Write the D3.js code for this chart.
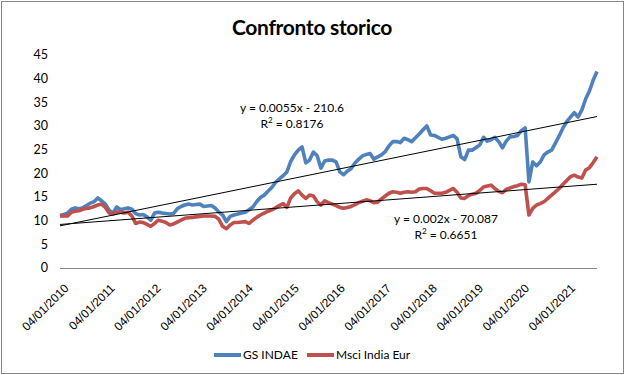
<html>
<head>
<style>
  body { margin: 0; background: #fff; }
  svg { display: block; font-family: Lato, Carlito, "Open Sans", sans-serif; }
</style>
<script src="https://cdn.jsdelivr.net/npm/d3@7"></script>
</head>
<body>
<svg id="chart"></svg>
<script>
  var width = 625,
      height = 375;

  // one sample every 30 days from the first trading day
  var startDate = new Date(2010, 0, 4),
      stepDays = 30;

  var seriesNames = ["GS INDAE", "Msci India Eur"];
  var seriesColors = ["#4F81BD", "#C0504D"];

  var gsIndae = [
    11.1, 11.3, 11.6, 12.4, 12.7, 12.5, 12.7, 13.2, 13.7, 14.0,
    14.8, 14.2, 13.5, 12.2, 11.6, 12.9, 12.3, 12.5, 12.7, 12.4,
    11.5, 11.2, 11.3, 10.8, 10.1, 11.6, 11.8, 11.6, 11.5, 11.4,
    11.5, 12.5, 13.0, 13.3, 13.5, 13.3, 13.4, 13.5, 13.0, 13.1,
    13.2, 12.7, 11.8, 11.2, 9.8, 10.9, 11.2, 11.4, 11.6, 11.8,
    12.3, 12.9, 14.0, 14.9, 15.4, 16.2, 17.0, 18.1, 18.8, 19.5,
    20.3, 22.5, 23.9, 24.9, 25.6, 22.2, 22.8, 24.5, 23.7, 21.1,
    22.6, 22.8, 22.8, 22.4, 20.3, 19.7, 20.5, 21.0, 22.2, 23.0,
    23.7, 24.0, 24.2, 23.0, 23.5, 23.9, 24.6, 25.8, 26.7, 26.7,
    26.5, 27.4, 27.1, 26.7, 27.5, 28.3, 29.2, 30.0, 28.1, 28.0,
    27.6, 27.2, 27.4, 27.7, 28.0, 27.3, 23.5, 22.9, 24.9, 24.9,
    25.4, 26.0, 27.6, 26.8, 27.1, 27.6, 26.7, 25.4, 26.8, 27.7,
    27.8, 28.0, 29.0, 29.6, 18.2, 22.4, 21.6, 22.4, 23.9, 24.5,
    24.9, 26.4, 27.9, 29.6, 30.9, 31.9, 32.8, 31.9, 33.4, 35.7,
    37.4, 39.7, 41.5
  ];

  var msciIndia = [
    11.0, 11.0, 11.0, 11.8, 12.0, 12.1, 12.4, 12.6, 12.7, 13.0,
    13.3, 13.5, 12.8, 11.6, 11.4, 11.8, 11.8, 11.6, 11.8, 11.0,
    9.4, 9.7, 9.6, 9.2, 8.8, 9.4, 10.1, 9.9, 9.6, 9.1,
    9.3, 9.7, 10.1, 10.5, 10.6, 10.7, 10.8, 10.9, 11.0, 11.0,
    11.0, 10.9, 10.3, 8.8, 8.3, 9.1, 9.6, 9.6, 9.7, 9.8,
    9.4, 10.1, 10.7, 11.2, 11.6, 12.0, 12.3, 12.7, 13.2, 13.6,
    12.8, 14.8, 15.7, 16.3, 15.4, 14.7, 15.4, 15.2, 14.0, 13.3,
    14.2, 13.8, 13.5, 13.2, 12.8, 12.6, 12.8, 13.0, 13.4, 13.8,
    14.1, 14.4, 14.2, 13.8, 13.9, 14.6, 15.2, 15.8, 16.1, 16.0,
    15.8, 16.0, 16.1, 16.0, 16.1, 16.7, 16.8, 16.8, 16.3, 15.8,
    15.8, 15.8, 16.0, 16.4, 16.8, 16.0, 14.8, 14.7, 15.3, 15.6,
    15.8, 16.4, 17.1, 17.3, 17.5, 16.8, 16.2, 15.9, 16.6, 16.9,
    17.2, 17.4, 17.7, 17.6, 11.2, 12.6, 13.3, 13.6, 14.0, 14.7,
    15.4, 16.1, 16.8, 17.7, 18.5, 19.3, 19.6, 19.2, 19.0, 20.7,
    21.2, 22.3, 23.5
  ];

  // linear trend lines, value at first and last date
  var trendGs = [8.9, 32.0],
      trendMsci = [9.2, 17.7];
  var trendLabelsGs = ["y = 0.0055x - 210.6", "0.8176"],
      trendLabelsMsci = ["y = 0.002x - 70.087", "0.6651"];

  var yTicks = [0, 5, 10, 15, 20, 25, 30, 35, 40, 45];
  var tickYears = [2010, 2011, 2012, 2013, 2014, 2015, 2016, 2017, 2018, 2019, 2020, 2021];

  var dates = gsIndae.map(function(d, i) { return d3.timeDay.offset(startDate, i * stepDays); });
  var endDate = dates[dates.length - 1];

  var svg = d3.select("#chart")
      .attr("width", width)
      .attr("height", height);

  svg.append("rect")
      .attr("x", 1.5).attr("y", 1.5)
      .attr("width", width - 3).attr("height", height - 3)
      .attr("fill", "#fff")
      .attr("stroke", "#868686");

  var x = d3.scaleTime()
      .domain([startDate, endDate])
      .range([60, 597]);

  var y = d3.scaleLinear()
      .domain([0, 45])
      .range([268, 55]);

  svg.append("text")
      .attr("x", 312).attr("y", 35)
      .attr("text-anchor", "middle")
      .attr("font-size", 21).attr("font-weight", "bold")
      .attr("letter-spacing", -0.3)
      .text("Confronto storico");

  // y labels, no axis line
  svg.append("g").selectAll("text")
      .data(yTicks)
      .enter().append("text")
      .attr("x", 48)
      .attr("y", function(d) { return y(d); })
      .attr("dy", "0.35em")
      .attr("text-anchor", "end")
      .attr("font-size", 12.5)
      .text(function(d) { return d; });

  // x axis
  var fmt = d3.timeFormat("%d/%m/%Y");
  var xAxis = d3.axisBottom(x)
      .tickValues(tickYears.map(function(yr) { return new Date(yr, 0, 4); }))
      .tickSize(0)
      .tickFormat(fmt);

  var gx = svg.append("g")
      .attr("transform", "translate(0," + y(0) + ")")
      .call(xAxis);
  gx.select(".domain").attr("stroke", "#868686").attr("d", "M60,0.5H597");
  gx.selectAll("text")
      .attr("font-family", null)
      .attr("font-size", 12)
      .attr("fill", "#000")
      .attr("text-anchor", "end")
      .attr("y", 0).attr("dy", 0)
      .attr("transform", "translate(9,21) rotate(-45)");

  var line = d3.line()
      .x(function(d, i) { return x(dates[i]); })
      .y(function(d) { return y(d); });

  [gsIndae, msciIndia].forEach(function(vals, k) {
    svg.append("path")
        .datum(vals)
        .attr("fill", "none")
        .attr("stroke", seriesColors[k])
        .attr("stroke-width", 3.6)
        .attr("stroke-linejoin", "round")
        .attr("d", line);
  });

  [trendGs, trendMsci].forEach(function(t) {
    svg.append("line")
        .attr("x1", x(startDate)).attr("y1", y(t[0]))
        .attr("x2", x(endDate)).attr("y2", y(t[1]))
        .attr("stroke", "#000")
        .attr("stroke-width", 1);
  });

  function trendLabel(lines, cx, cy) {
    var g = svg.append("g").attr("font-size", 12).attr("text-anchor", "middle");
    g.append("text").attr("x", cx).attr("y", cy).text(lines[0]);
    var r = g.append("text").attr("x", cx).attr("y", cy + 16);
    r.append("tspan").text("R");
    r.append("tspan").attr("font-size", 8).attr("dy", -5).text("2");
    r.append("tspan").attr("dy", 5).text(" = " + lines[1]);
  }
  trendLabel(trendLabelsGs, 292, 112);
  trendLabel(trendLabelsMsci, 446, 223);

  // legend
  var legendX = [214, 307];
  seriesNames.forEach(function(name, k) {
    svg.append("line")
        .attr("x1", legendX[k]).attr("x2", legendX[k] + 27)
        .attr("y1", 355).attr("y2", 355)
        .attr("stroke", seriesColors[k])
        .attr("stroke-width", 4);
    svg.append("text")
        .attr("x", legendX[k] + 29).attr("y", 355)
        .attr("dy", "0.35em")
        .attr("font-size", 12)
        .text(name);
  });
</script>
</body>
</html>
